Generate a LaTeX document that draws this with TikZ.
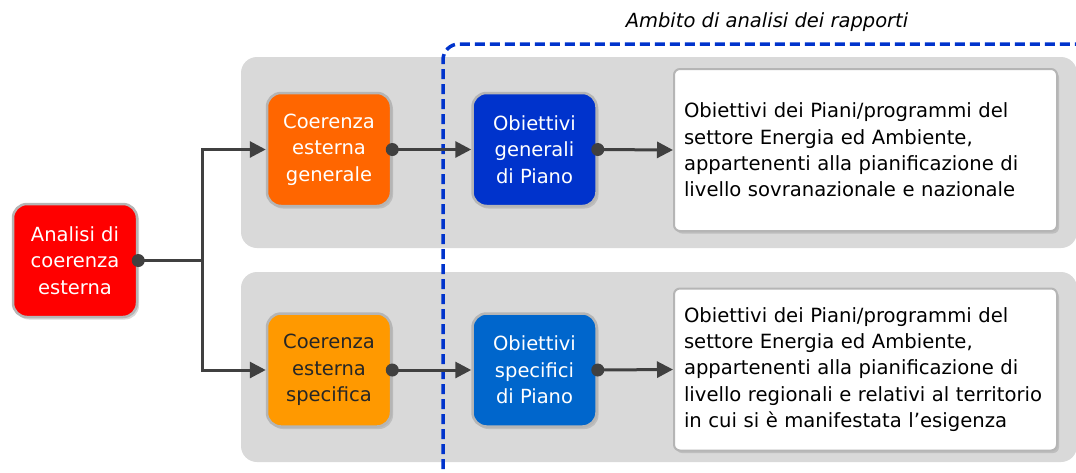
\documentclass[tikz,border=0pt]{standalone}
\usepackage{fontspec}
\setmainfont{DejaVu Sans}
\usetikzlibrary{arrows.meta,shadows}

\definecolor{panelgray}{HTML}{D9D9D9}
\definecolor{redfill}{HTML}{FF0000}
\definecolor{orangeA}{HTML}{FF6600}
\definecolor{orangeB}{HTML}{FF9900}
\definecolor{blueA}{HTML}{0033CC}
\definecolor{blueB}{HTML}{0066CC}
\definecolor{linkgray}{HTML}{404040}
\definecolor{scopeblue}{HTML}{0033CC}
\definecolor{boxedge}{HTML}{B5B5B5}
\definecolor{darktext}{HTML}{262626}

\tikzset{
  colorbox/.style={rounded corners=14pt, draw=boxedge, line width=2.5pt,
    minimum width=124pt, minimum height=113pt, align=center, text=white,
    font=\fontsize{19.5}{26.5}\selectfont,
    drop shadow={shadow xshift=2pt, shadow yshift=-2.5pt, opacity=0.3}},
  notebox/.style={rounded corners=6pt, draw=boxedge, line width=2pt, fill=white,
    minimum width=383pt, minimum height=162pt, align=left, text width=363pt,
    inner xsep=10pt, font=\fontsize{19.6}{26.3}\selectfont, text=black,
    drop shadow={shadow xshift=2pt, shadow yshift=-2.5pt, opacity=0.3}},
  panel/.style={fill=panelgray, rounded corners=16pt},
  link/.style={draw=linkgray, line width=3pt},
  arrowlink/.style={link, -{Triangle[length=16pt, width=16pt]}},
  dot/.style={circle, fill=linkgray, inner sep=0pt, minimum size=13pt},
}

\begin{document}
\begin{tikzpicture}[x=1pt, y=-1pt]
  \clip (0,0) rectangle (1076,472);

  % grey bands behind the two rows
  \fill[panel] (241,57) rectangle (1077,248);
  \fill[panel] (241,272) rectangle (1077,462);

  % dashed frame of the analysis scope
  \draw[scopeblue, line width=3.5pt, dash pattern=on 10pt off 5pt, rounded corners=16pt]
    (443,484) -- (443,44) -- (1100,44);
  \node[font=\fontsize{19.5}{24}\selectfont\itshape] (scopelabel) at (767,22)
    {Ambito di analisi dei rapporti};

  % boxes
  \node[colorbox, fill=redfill] (root) at (75,260.5) {Analisi di\\coerenza\\esterna};
  \node[colorbox, fill=orangeA] (genext) at (329,149.5) {Coerenza\\esterna\\generale};
  \node[colorbox, fill=orangeB, text=darktext] (specext) at (329,370) {Coerenza\\esterna\\specifica};
  \node[colorbox, fill=blueA] (genobj) at (534.5,149.5) {Obiettivi\\generali\\di Piano};
  \node[colorbox, fill=blueB] (specobj) at (534.5,370) {Obiettivi\\specifici\\di Piano};
  \node[notebox] (gennote) at (865.5,150)
    {Obiettivi dei Piani/programmi del\\settore Energia ed Ambiente,\\appartenenti alla pianificazione di\\livello sovranazionale e nazionale};
  \node[notebox] (specnote) at (865.5,369.5)
    {Obiettivi dei Piani/programmi del\\settore Energia ed Ambiente,\\appartenenti alla pianificazione di\\livello regionali e relativi al territorio\\in cui si è manifestata l’esigenza};

  % connectors
  \coordinate (split) at (202,260.5);
  \draw[link] (root.east) -- (split);
  \draw[arrowlink] (split) |- (genext.west);
  \draw[arrowlink] (split) |- (specext.west);
  \draw[arrowlink] (genext.east) -- (genobj.west);
  \draw[arrowlink] (specext.east) -- (specobj.west);
  \draw[arrowlink] (genobj.east) -- (gennote.west);
  \draw[arrowlink] (specobj.east) -- (specnote.west);

  % connector start points
  \node[dot] (rootdot) at (root.east) {};
  \node[dot] (genextdot) at (genext.east) {};
  \node[dot] (specextdot) at (specext.east) {};
  \node[dot] (genobjdot) at (genobj.east) {};
  \node[dot] (specobjdot) at (specobj.east) {};
\end{tikzpicture}
\end{document}
